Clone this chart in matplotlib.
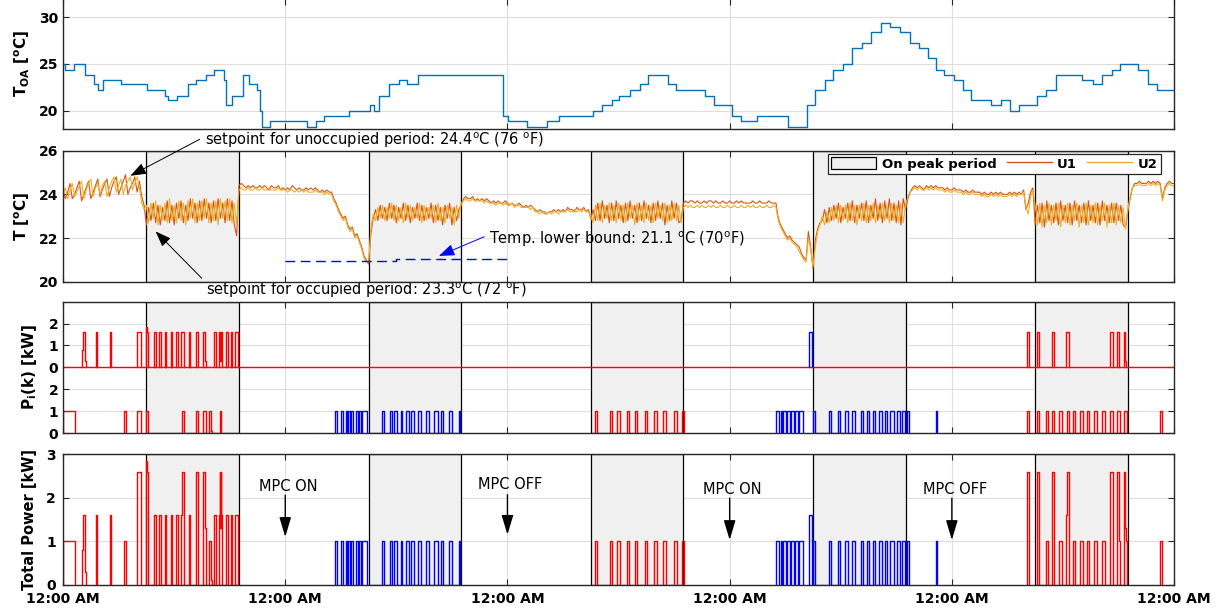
import numpy as np
import matplotlib
matplotlib.use('Agg')
import matplotlib.pyplot as plt
from matplotlib.patches import Patch
from matplotlib.lines import Line2D

# outdoor air temperature: (hour the step starts, degC)
toa_hours = [0.0, 0.25, 1.2, 2.4, 3.3, 3.8, 4.3, 6.3, 9.1, 11.05, 11.3, 12.3, 13.5, 14.4,
             15.4, 16.3, 17.4, 17.6, 18.3, 19.4, 20.1, 21.0, 21.3, 21.5, 22.3, 26.3, 27.3,
             28.2, 30.9, 33.2, 33.6, 34.1, 35.2, 36.3, 37.2, 38.3, 47.5, 48.1, 50.1, 52.3,
             53.6, 57.2, 58.2, 59.3, 60.1, 61.2, 62.3, 63.2, 65.3, 66.2, 69.35, 70.3, 72.2,
             73.2, 75.0, 78.3, 80.4, 81.2, 82.3, 83.2, 84.2, 85.2, 86.3, 87.3, 88.3, 89.3,
             90.4, 91.5, 92.4, 93.4, 94.3, 95.2, 96.2, 97.2, 98.1, 100.2, 101.3, 102.3,
             103.2, 105.2, 106.2, 107.2, 110.1, 111.2, 112.2, 113.3, 114.2, 116.1, 117.2,
             118.2, 120.0]
toa_values = [25.0, 24.4, 25.0, 23.8, 22.8, 22.2, 23.3, 22.8, 22.2, 21.6, 21.1, 21.6, 22.8, 23.3,
              23.8, 24.4, 23.3, 20.6, 21.6, 23.8, 22.8, 22.2, 20.0, 18.3, 18.9, 18.3, 18.9,
              19.4, 20.0, 20.6, 20.0, 21.6, 22.8, 23.3, 22.8, 23.8, 19.4, 18.9, 18.3, 18.9,
              19.4, 20.0, 20.6, 21.1, 21.6, 22.2, 22.8, 23.8, 22.8, 22.2, 21.6, 20.6, 19.4,
              18.9, 19.4, 18.3, 20.6, 22.2, 23.3, 24.4, 25.0, 26.7, 27.2, 28.4, 29.4, 28.9,
              28.4, 27.2, 26.7, 25.6, 24.4, 23.8, 23.3, 22.2, 21.1, 20.6, 21.1, 20.0,
              20.6, 21.6, 22.2, 23.8, 23.3, 22.8, 23.8, 24.4, 25.0, 24.4, 22.8,
              22.2, 22.2]

# zone temperatures, one sample every 15 minutes (12 samples per row = 3 h)
temp_step_h = 0.25
u1_temp = [
    24.2, 23.8, 24.1, 24.5, 23.8, 24.0, 24.3, 24.6, 23.7, 24.0, 24.3, 24.6,
    23.8, 24.1, 24.4, 24.7, 23.9, 24.2, 24.5, 24.7, 23.9, 24.3, 24.6, 24.8,
    24.0, 24.3, 24.6, 24.9, 24.0, 24.3, 24.5, 24.8, 24.1, 24.6, 23.9, 23.5,
    22.6, 23.4, 22.8, 23.6, 22.7, 23.5, 22.6, 23.4, 22.8, 23.7, 22.7, 23.5,
    22.6, 23.6, 22.9, 23.7, 22.7, 23.5, 22.8, 23.8, 22.9, 23.6, 22.7, 23.7,
    22.8, 23.8, 22.9, 23.6, 22.7, 23.7, 22.8, 23.8, 22.9, 23.6, 22.7, 23.8,
    22.8, 23.7, 22.6, 22.1, 24.4, 24.5, 24.4, 24.3, 24.4, 24.3, 24.4, 24.3,
    24.3, 24.4, 24.3, 24.4, 24.3, 24.2, 24.4, 24.3, 24.3, 24.4, 24.2, 24.3,
    24.2, 24.3, 24.2, 24.4, 24.3, 24.2, 24.3, 24.2, 24.2, 24.3, 24.2, 24.3,
    24.2, 24.3, 24.2, 24.1, 24.2, 24.1, 24.2, 24.1, 24.1, 23.8, 23.6, 23.3,
    23.1, 22.9, 23.0, 22.6, 22.4, 22.5, 22.1, 22.2, 21.9, 21.6, 21.2, 21.0,
    20.8, 22.2, 22.9, 23.3, 22.8, 23.5, 22.9, 23.4, 22.8, 23.6, 22.9, 23.5,
    22.7, 23.4, 22.9, 23.6, 22.8, 23.5, 22.7, 23.4, 22.9, 23.6, 22.8, 23.5,
    22.8, 23.4, 22.9, 23.6, 22.7, 23.5, 22.8, 23.4, 22.6, 23.5, 22.9, 23.6,
    22.6, 23.4, 22.8, 23.3, 23.5, 23.8, 23.9, 23.8, 23.8, 23.9, 23.7, 23.8,
    23.7, 23.8, 23.7, 23.8, 23.7, 23.6, 23.7, 23.6, 23.7, 23.6, 23.6, 23.7,
    23.6, 23.5, 23.6, 23.5, 23.5, 23.6, 23.5, 23.4, 23.5, 23.4, 23.5, 23.4,
    23.3, 23.2, 23.3, 23.2, 23.2, 23.1, 23.2, 23.2, 23.3, 23.2, 23.3, 23.2,
    23.3, 23.2, 23.4, 23.3, 23.3, 23.2, 23.4, 23.3, 23.3, 23.4, 23.2, 23.3,
    22.9, 23.3, 22.8, 23.6, 22.8, 23.7, 22.9, 23.5, 22.7, 23.6, 22.8, 23.7,
    22.9, 23.5, 22.7, 23.6, 22.8, 23.7, 22.9, 23.5, 22.7, 23.6, 22.8, 23.7,
    22.9, 23.5, 22.7, 23.6, 22.8, 23.7, 22.9, 23.6, 22.6, 23.5, 22.8, 23.7,
    22.9, 23.6, 22.7, 22.8, 23.6, 23.7, 23.6, 23.7, 23.7, 23.6, 23.7, 23.6,
    23.6, 23.7, 23.6, 23.7, 23.7, 23.6, 23.7, 23.6, 23.6, 23.7, 23.6, 23.6,
    23.7, 23.6, 23.6, 23.7, 23.6, 23.7, 23.6, 23.6, 23.6, 23.6, 23.7, 23.6,
    23.6, 23.7, 23.6, 23.6, 23.6, 23.7, 23.6, 23.6, 23.6, 22.9, 22.6, 22.4,
    22.2, 22.0, 22.1, 21.9, 21.8, 21.7, 21.6, 21.3, 21.1, 21.0, 22.3, 21.6,
    20.6, 21.9, 22.4, 22.7, 22.8, 23.3, 22.7, 23.4, 22.8, 23.5, 22.9, 23.6,
    22.7, 23.4, 22.9, 23.6, 22.8, 23.7, 22.7, 23.5, 22.9, 23.6, 22.8, 23.7,
    22.7, 23.5, 22.9, 23.8, 22.8, 23.6, 22.7, 23.7, 22.9, 23.8, 22.8, 23.6,
    22.7, 23.7, 22.6, 23.8, 23.3, 23.8, 24.1, 24.3, 24.4, 24.3, 24.4, 24.3,
    24.2, 24.4, 24.3, 24.4, 24.3, 24.4, 24.3, 24.3, 24.3, 24.2, 24.3, 24.2,
    24.2, 24.3, 24.2, 24.2, 24.2, 24.1, 24.2, 24.1, 24.1, 24.2, 24.1, 24.1,
    24.1, 24.0, 24.1, 24.0, 24.0, 24.1, 24.0, 24.1, 24.0, 24.1, 24.0, 24.0,
    24.0, 24.1, 24.0, 24.1, 24.0, 24.1, 24.0, 24.2, 23.3, 23.6, 24.1, 24.3,
    22.6, 23.5, 22.7, 23.6, 22.5, 23.7, 22.8, 23.5, 22.7, 23.6, 22.6, 23.7,
    22.8, 23.5, 22.7, 23.6, 22.6, 23.7, 22.8, 23.5, 22.7, 23.6, 22.6, 23.7,
    22.8, 23.5, 22.7, 23.6, 22.6, 23.7, 22.8, 23.5, 22.7, 23.6, 22.7, 23.6,
    22.8, 23.5, 22.6, 22.5, 23.2, 23.8, 24.3, 24.5, 24.5, 24.6, 24.5, 24.5,
    24.5, 24.6, 24.5, 24.6, 24.5, 24.6, 24.5, 23.8, 24.3, 24.5, 24.6, 24.5,
    24.5]
u2_temp = [
    24.0, 24.3, 23.8, 24.2, 24.5, 23.9, 24.1, 24.4, 24.6, 23.8, 24.2, 24.5,
    24.7, 23.9, 24.3, 24.5, 24.0, 24.4, 24.6, 23.9, 24.3, 24.6, 24.8, 24.1,
    24.4, 24.7, 24.0, 24.4, 24.6, 24.8, 24.2, 24.5, 24.8, 24.3, 23.6, 23.3,
    23.5, 22.7, 23.6, 22.9, 23.7, 22.6, 23.5, 22.8, 23.6, 22.7, 23.8, 22.8,
    23.5, 22.7, 23.7, 22.8, 23.6, 22.6, 23.7, 22.9, 23.8, 22.7, 23.6, 22.8,
    23.7, 22.9, 23.8, 22.7, 23.6, 22.8, 23.7, 22.6, 23.8, 22.9, 23.7, 22.8,
    23.8, 22.7, 23.6, 22.6, 24.2, 24.3, 24.2, 24.2, 24.3, 24.2, 24.2, 24.3,
    24.2, 24.2, 24.3, 24.2, 24.2, 24.3, 24.2, 24.2, 24.2, 24.3, 24.2, 24.2,
    24.2, 24.1, 24.2, 24.2, 24.1, 24.2, 24.1, 24.2, 24.1, 24.2, 24.1, 24.1,
    24.1, 24.2, 24.1, 24.1, 24.1, 24.0, 24.1, 24.0, 24.0, 23.7, 23.5, 23.2,
    23.0, 22.8, 22.9, 22.5, 22.3, 22.4, 22.0, 22.1, 21.8, 21.5, 21.1, 20.9,
    20.9, 22.4, 23.1, 22.8, 23.4, 22.9, 23.5, 22.8, 23.4, 22.9, 23.6, 22.8,
    23.5, 22.8, 23.4, 22.7, 23.6, 22.9, 23.5, 22.8, 23.4, 22.9, 23.6, 22.7,
    23.5, 22.8, 23.4, 22.9, 23.5, 22.7, 23.6, 22.8, 23.4, 22.7, 23.5, 22.9,
    23.4, 22.6, 23.5, 22.9, 23.6, 23.7, 23.8, 23.7, 23.7, 23.8, 23.7, 23.7,
    23.7, 23.7, 23.6, 23.7, 23.6, 23.6, 23.6, 23.5, 23.6, 23.6, 23.5, 23.6,
    23.5, 23.5, 23.6, 23.4, 23.5, 23.5, 23.4, 23.4, 23.4, 23.4, 23.3, 23.4,
    23.2, 23.2, 23.1, 23.2, 23.1, 23.1, 23.2, 23.1, 23.2, 23.2, 23.1, 23.2,
    23.2, 23.2, 23.3, 23.2, 23.2, 23.3, 23.2, 23.3, 23.2, 23.3, 23.2, 23.2,
    23.0, 22.7, 23.5, 22.8, 23.6, 22.7, 23.5, 22.9, 23.6, 22.8, 23.5, 22.7,
    23.6, 22.8, 23.5, 22.7, 23.6, 22.9, 23.5, 22.6, 23.6, 22.8, 23.5, 22.7,
    23.6, 22.8, 23.5, 22.7, 23.6, 22.9, 23.5, 22.8, 23.6, 22.7, 23.5, 22.8,
    23.6, 22.8, 23.5, 22.7, 23.4, 23.5, 23.4, 23.5, 23.4, 23.4, 23.5, 23.4,
    23.5, 23.4, 23.4, 23.5, 23.4, 23.5, 23.4, 23.4, 23.5, 23.4, 23.4, 23.5,
    23.4, 23.4, 23.5, 23.4, 23.4, 23.5, 23.4, 23.4, 23.5, 23.4, 23.5, 23.4,
    23.4, 23.5, 23.4, 23.4, 23.5, 23.4, 23.4, 23.5, 23.4, 22.8, 22.5, 22.3,
    22.1, 21.9, 22.0, 21.8, 21.7, 21.6, 21.4, 21.2, 21.0, 20.9, 22.0, 21.5,
    20.7, 21.6, 22.3, 22.6, 23.0, 22.6, 23.2, 22.7, 23.4, 22.8, 23.5, 22.7,
    23.5, 22.8, 23.5, 22.7, 23.6, 22.8, 23.5, 22.6, 23.5, 22.8, 23.6, 22.7,
    23.5, 22.8, 23.6, 22.7, 23.5, 22.9, 23.6, 22.8, 23.5, 22.7, 23.6, 22.8,
    23.5, 22.7, 23.6, 22.7, 23.5, 23.9, 24.1, 24.2, 24.3, 24.2, 24.3, 24.2,
    24.2, 24.3, 24.2, 24.3, 24.2, 24.3, 24.2, 24.2, 24.2, 24.1, 24.2, 24.1,
    24.1, 24.2, 24.1, 24.1, 24.1, 24.0, 24.1, 24.0, 24.0, 24.1, 24.0, 24.0,
    24.0, 23.9, 24.0, 23.9, 23.9, 24.0, 23.9, 24.0, 23.9, 24.0, 23.9, 23.9,
    23.9, 24.0, 23.9, 24.0, 23.9, 24.0, 24.0, 24.1, 23.4, 23.1, 23.9, 24.2,
    23.5, 22.6, 23.6, 22.5, 23.5, 22.7, 23.6, 22.6, 23.5, 22.8, 23.6, 22.5,
    23.5, 22.7, 23.6, 22.6, 23.5, 22.8, 23.6, 22.5, 23.5, 22.7, 23.6, 22.6,
    23.5, 22.7, 23.6, 22.6, 23.5, 22.8, 23.6, 22.5, 23.5, 22.7, 23.6, 22.6,
    23.5, 22.7, 23.4, 22.4, 23.3, 23.9, 24.3, 24.4, 24.4, 24.5, 24.4, 24.4,
    24.4, 24.5, 24.4, 24.5, 24.4, 24.5, 24.4, 23.7, 24.2, 24.4, 24.5, 24.4,
    24.4]

# temperature lower bound while MPC runs on day 2
bound_hours = [24, 36, 36, 48]
bound_values = [20.95, 20.95, 21.02, 21.02]

# on-peak windows (9:00 - 19:00 each day) and MPC-on windows
peak_periods = [(9, 19), (33, 43), (57, 67), (81, 91), (105, 115)]
mpc_on_periods = [(24, 48), (72, 96)]

# compressor on-intervals: (start h, end h, kW)
p1_pulses = [
    (2.1, 2.2, 0.8), (2.2, 2.35, 1.6), (2.35, 2.45, 0.3), (3.55, 3.7, 1.6), (5.08, 5.2, 1.6),
    (8.0, 8.4, 1.6), (9.0, 9.05, 1.85), (9.05, 9.2, 1.6), (9.83, 10.0, 1.6), (10.4, 10.55, 1.6),
    (10.98, 11.1, 1.6), (11.67, 11.8, 1.6), (12.17, 12.4, 1.6), (12.75, 13.05, 1.6),
    (13.6, 13.75, 1.6), (14.4, 14.55, 1.6), (15.15, 15.3, 1.6), (15.3, 15.42, 0.3),
    (16.34, 16.5, 1.6), (16.8, 16.95, 1.6), (16.95, 17.05, 0.3), (17.05, 17.2, 1.6),
    (17.6, 17.8, 1.6), (18.1, 18.3, 1.6), (18.55, 18.9, 1.6),
    (80.55, 80.93, 1.6),
    (104.16, 104.3, 1.6), (105.2, 105.45, 1.6), (106.85, 107.03, 1.6), (108.33, 108.66, 1.6),
    (113.06, 113.38, 1.6), (113.88, 114.1, 1.6), (114.63, 114.75, 1.6), (114.75, 114.85, 0.3),
]
p2_pulses = [
    (0.0, 1.3, 1.0), (6.62, 6.75, 1.0), (6.75, 6.84, 0.1), (8.0, 8.4, 1.0), (9.0, 9.2, 1.0),
    (12.88, 13.07, 1.0), (14.4, 14.58, 1.0), (15.1, 15.4, 1.0), (15.8, 16.0, 1.0),
    (16.0, 16.1, 0.1), (16.9, 17.1, 1.0),
    (29.38, 29.63, 1.0), (29.99, 30.28, 1.0), (30.53, 30.7, 1.0), (30.8, 31.0, 1.0),
    (31.1, 31.36, 1.0), (31.65, 31.9, 1.0), (31.95, 32.15, 1.0), (32.26, 32.87, 1.0),
    (34.4, 34.7, 1.0), (35.3, 35.57, 1.0), (35.78, 36.03, 1.0), (36.5, 36.6, 1.0),
    (37.05, 37.34, 1.0), (37.62, 37.88, 1.0), (38.38, 38.67, 1.0), (39.24, 39.5, 1.0),
    (40.1, 40.47, 1.0), (40.83, 41.08, 1.0), (41.7, 41.98, 1.0), (42.74, 42.88, 1.0),
    (57.46, 57.64, 1.0), (59.08, 59.26, 1.0), (59.8, 60.16, 1.0), (60.88, 61.17, 1.0),
    (61.78, 62.03, 1.0), (62.86, 63.11, 1.0), (63.87, 64.12, 1.0), (64.84, 65.1, 1.0),
    (66.0, 66.28, 1.0), (66.86, 67.1, 1.0),
    (77.0, 77.37, 1.0), (77.5, 77.65, 1.0), (77.8, 78.1, 1.0), (78.2, 78.5, 1.0),
    (78.6, 79.0, 1.0), (79.1, 79.4, 1.0), (79.5, 79.95, 1.0), (80.97, 81.22, 1.0),
    (82.77, 82.95, 1.0), (83.7, 83.9, 1.0), (84.5, 84.8, 1.0), (85.25, 85.55, 1.0),
    (86.15, 86.45, 1.0), (86.8, 87.1, 1.0), (87.45, 87.73, 1.0), (88.17, 88.46, 1.0),
    (88.75, 89.0, 1.0), (89.3, 89.7, 1.0), (90.05, 90.4, 1.0), (90.6, 90.95, 1.0),
    (91.2, 91.4, 1.0), (94.26, 94.4, 1.0),
    (104.16, 104.3, 1.0), (105.2, 105.45, 1.0), (106.2, 106.4, 1.0), (106.85, 107.05, 1.0),
    (107.6, 107.85, 1.0), (108.4, 108.66, 1.0), (109.1, 109.35, 1.0), (109.85, 110.13, 1.0),
    (110.57, 110.85, 1.0), (111.36, 111.65, 1.0), (112.22, 112.55, 1.0), (113.08, 113.38, 1.0),
    (113.88, 114.17, 1.0), (114.63, 114.88, 1.0), (118.48, 118.66, 1.0),
]

mpc_arrows = [(24, 'MPC ON', 2.25, 2.06, 1.10), (48, 'MPC OFF', 2.31, 2.07, 1.15),
              (72, 'MPC ON', 2.18, 1.99, 1.03), (96, 'MPC OFF', 2.18, 1.99, 1.03)]

C_OA = '#0072BD'
C_U1 = '#D95319'
C_U2 = '#EDB120'
C_AX = '#262626'
C_GRID = '#DEDEDE'
C_PEAK = '#F0F0F0'
day_ticks = np.arange(0, 121, 24)


def pulse_series(pulses, t):
    p = np.zeros_like(t)
    for s, e, kw in pulses:
        p[(t >= s - 1e-9) & (t < e - 1e-9)] = kw
    return p


def plot_runs(ax, t, p, base=0.0):
    # draw each on-run as its own step outline so the idle baseline stays empty;
    # blue while MPC is running, red otherwise
    on = np.concatenate([[0], (p > 0).astype(int), [0]])
    starts = np.where(np.diff(on) == 1)[0]
    ends = np.where(np.diff(on) == -1)[0]
    for i0, i1 in zip(starts, ends):
        i1 = min(i1, len(t) - 1)
        x = np.concatenate([[t[i0]], t[i0:i1 + 1]])
        y = np.concatenate([[0.0], p[i0:i1], [0.0]]) + base
        mpc = any(s <= t[i0] < e for s, e in mpc_on_periods)
        ax.plot(x, y, drawstyle='steps-post', lw=1.0,
                color='#0000FF' if mpc else '#FF0000', zorder=3)


def style_axes(ax):
    ax.set_xlim(0, 120)
    ax.set_xticks(day_ticks)
    ax.set_axisbelow(True)
    ax.grid(True, color=C_GRID, lw=0.8)
    ax.tick_params(direction='in', top=True, right=True, length=4, width=0.8,
                   color=C_AX, labelsize=10, labelbottom=False)
    for sp in ax.spines.values():
        sp.set_color(C_AX)
        sp.set_linewidth(1.0)
        sp.set_zorder(5)


def shade_peaks(ax):
    for s, e in peak_periods:
        ax.axvspan(s, e, facecolor=C_PEAK, edgecolor='k', lw=0.9, zorder=1)


fig = plt.figure(figsize=(12.29, 6.13), dpi=100)
left, width = 0.0513, 0.9040
ax1 = fig.add_axes([left, 0.789, width, 0.2134])
ax2 = fig.add_axes([left, 0.5405, width, 0.2137])
ax3 = fig.add_axes([left, 0.2936, width, 0.2142])
ax4 = fig.add_axes([left, 0.0462, width, 0.2127])

# outdoor air temperature
style_axes(ax1)
ax1.step(toa_hours, toa_values, where='post', color=C_OA, lw=1.0, zorder=3)
ax1.set_ylim(18, 32)
ax1.set_yticks([20, 25, 30], ['20', '25', '30'], fontweight='bold')
ax1.set_ylabel(r'$\mathbf{T_{OA}\ [^oC]}$', fontsize=11, labelpad=5)

# zone temperatures
style_axes(ax2)
shade_peaks(ax2)
t_temp = np.arange(len(u1_temp)) * temp_step_h
ax2.plot(t_temp, u1_temp, color=C_U1, lw=0.8, zorder=3)
ax2.plot(np.arange(len(u2_temp)) * temp_step_h, u2_temp, color=C_U2, lw=0.8, zorder=3)
ax2.plot(bound_hours, bound_values, color='#0000FF', lw=1.0, ls=(0, (7, 4)), zorder=3)
ax2.set_ylim(20, 26)
ax2.set_yticks([20, 22, 24, 26], ['20', '22', '24', '26'], fontweight='bold')
ax2.set_ylabel(r'$\mathbf{T\ [^oC]}$', fontsize=11, labelpad=5)

handles = [Patch(facecolor=C_PEAK, edgecolor='k', lw=0.9, label='On peak period'),
           Line2D([], [], color=C_U1, lw=1.0, label='U1'),
           Line2D([], [], color=C_U2, lw=1.0, label='U2')]
leg = ax2.legend(handles=handles, loc='upper right', bbox_to_anchor=(0.988, 0.975),
                 ncol=3, prop={'weight': 'bold', 'size': 9.5}, fancybox=False,
                 framealpha=1, edgecolor=C_AX, handlelength=3.4, handleheight=1.0,
                 columnspacing=0.8, handletextpad=0.4, borderpad=0.25, borderaxespad=0)
leg.get_frame().set_linewidth(0.9)
leg.set_zorder(10)

arrow_k = dict(arrowstyle='-|>,head_length=0.8,head_width=0.3', color='k', lw=0.7,
               mutation_scale=12, shrinkA=0, shrinkB=0)
ax2.annotate('', xy=(7.28, 24.85), xytext=(14.75, 26.52), arrowprops=arrow_k,
             annotation_clip=False, zorder=6)
ax2.text(15.34, 26.49, r'setpoint for unoccupied period: 24.4$^\mathrm{o}$C (76 $^\mathrm{o}$F)',
         ha='left', va='center', fontsize=10.5, clip_on=False)
ax2.annotate('', xy=(10.0, 22.3), xytext=(14.97, 20.16), arrowprops=arrow_k,
             annotation_clip=False, zorder=6)
ax2.text(15.45, 19.62, r'setpoint for occupied period: 23.3$^\mathrm{o}$C (72 $^\mathrm{o}$F)',
         ha='left', va='center', fontsize=10.5, clip_on=False)
arrow_b = dict(arrow_k, color='#0000FF')
ax2.annotate('', xy=(40.6, 21.18), xytext=(45.5, 22.06), arrowprops=arrow_b, zorder=6)
ax2.text(46.05, 21.94, r'Temp. lower bound: 21.1 $^\mathrm{o}$C (70$^\mathrm{o}$F)',
         ha='left', va='center', fontsize=10.5)

# per-unit power, unit 1 stacked above unit 2
t_fine = np.round(np.arange(0, 120.0001, 0.01), 2)
p1 = pulse_series(p1_pulses, t_fine)
p2 = pulse_series(p2_pulses, t_fine)

style_axes(ax3)
shade_peaks(ax3)
ax3.axhline(3, color='#FF0000', lw=1.0, zorder=2.5)
plot_runs(ax3, t_fine, p1, base=3.0)
plot_runs(ax3, t_fine, p2)
ax3.set_ylim(0, 6)
ax3.set_yticks([0, 1, 2, 3, 4, 5], ['0', '1', '2', '0', '1', '2'], fontweight='bold')
ax3.set_ylabel(r'$\mathbf{P_i(k)\ [kW]}$', fontsize=11, labelpad=7)

# total power
style_axes(ax4)
shade_peaks(ax4)
plot_runs(ax4, t_fine, p1 + p2)
ax4.set_ylim(0, 3)
ax4.set_yticks([0, 1, 2, 3], ['0', '1', '2', '3'], fontweight='bold')
ax4.set_ylabel('Total Power [kW]', fontsize=10.5, fontweight='bold', labelpad=7)
ax4.tick_params(labelbottom=True, pad=5)
ax4.set_xticks(day_ticks, ['12:00 AM'] * len(day_ticks), fontweight='bold')

arrow_m = dict(arrowstyle='-|>,head_length=1.0,head_width=0.3', color='k', lw=1.0,
               mutation_scale=12, shrinkA=0, shrinkB=0)
for x, label, y_txt, y_tail, y_tip in mpc_arrows:
    ax4.annotate('', xy=(x, y_tip), xytext=(x, y_tail), arrowprops=arrow_m, zorder=6)
    ax4.text(x + 0.3, y_txt, label, ha='center', va='center', fontsize=10.5)

fig.savefig('out.png', dpi=100)
